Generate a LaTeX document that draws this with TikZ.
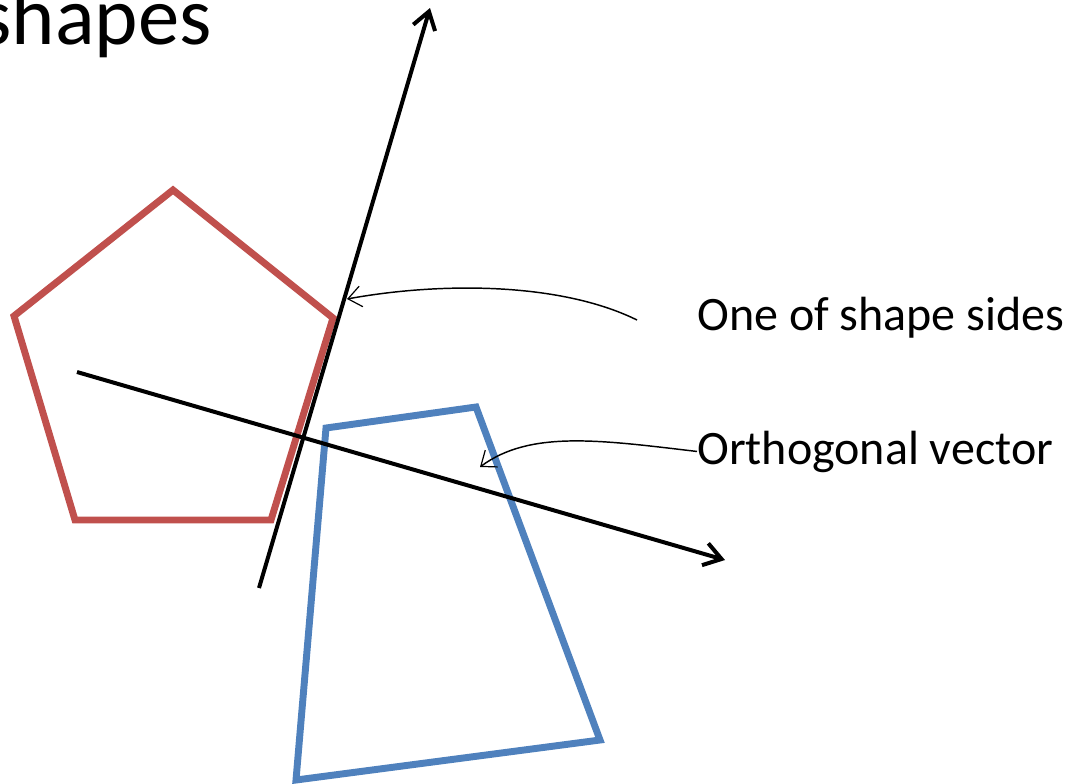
\documentclass[tikz,border=0pt]{standalone}
\usepackage{fontspec}
\setmainfont{Carlito}
\usepackage{xcolor}
\usetikzlibrary{arrows.meta,positioning,calc}

\definecolor{penred}{HTML}{C0504D}
\definecolor{quadblue}{HTML}{4F81BD}

\begin{document}
\begin{tikzpicture}[
  x=0.75pt, y=-0.75pt,
  shapeline/.style={line width=5.2pt, line join=miter},
  axis/.style={line width=3pt, -{Straight Barb[length=4.5mm, width=6mm, line width=3pt]}},
  note/.style={-{Straight Barb[length=3.5mm, width=5.5mm, line width=0.9pt]}, line width=1.1pt},
  lbl/.style={inner sep=0pt, font=\fontsize{36}{42}\selectfont},
  title/.style={inner sep=0pt, font=\fontsize{62}{70}\selectfont}
]
\useasboundingbox (0,0) rectangle (1070,783);
\clip (0,0) rectangle (1070,783);

% title (cut at the left border)
\node[title, anchor=base east] (title) at (212,44) {shapes};

% the two shapes
\draw[shapeline, penred] (173,190) -- (333,318) -- (271,520) -- (75,520) -- (14,316) -- cycle;
\draw[shapeline, quadblue] (326,428) -- (476,407) -- (600,740) -- (296,780) -- cycle;

% side line and its orthogonal vector
\coordinate (sidestart) at (259,588);
\coordinate (sideend)   at (430,8);
\coordinate (orthstart) at (77,372);
\coordinate (orthend)   at (725,560);
\draw[axis] (sidestart) -- (sideend);
\draw[axis] (orthstart) -- (orthend);

% labels
\node[lbl, anchor=base west] (sides) at (697,330) {One of shape sides};
\node[lbl, anchor=base west] (ortho) at (697,464) {Orthogonal vector};

\coordinate (sidesfrom) at (637,320);
\coordinate (sidehit)   at (347,299);
\coordinate (orthhit)   at (480,467);
\draw[note] (sidesfrom) .. controls (560,282) and (440,282) .. (sidehit);
\draw[note] (ortho.west) .. controls (600,440) and (530,430) .. (orthhit);
\end{tikzpicture}
\end{document}
